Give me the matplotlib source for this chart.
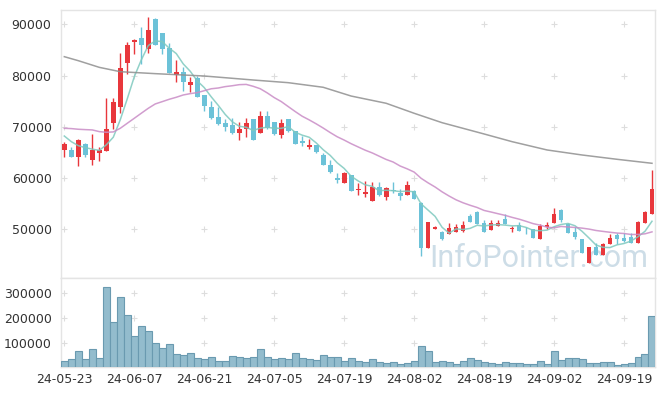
import numpy as np
import matplotlib
matplotlib.use('Agg')
import matplotlib.pyplot as plt

# daily candles, 24-05-23 .. 24-09-25
opens = [65500, 65500, 64200, 66650, 63600, 64800, 65370, 70800, 73950, 82500,
         86600, 87400, 85250, 91050, 88300, 85300, 80180, 80700, 78230, 79460,
         76150, 73920, 71830, 70650, 70260, 68820, 69480, 71570, 68820, 72030,
         70850, 68430, 71440, 69150, 67190, 66010, 66470, 64580, 62610, 60070,
         59020, 60650, 57580, 56860, 55430, 58240, 56400, 57580, 56990, 56670,
         57390, 55100, 46270, 50130, 49410, 49020, 49410, 49670, 52610, 53460,
         51180, 49870, 50650, 51960, 50000, 50780, 49740, 50000, 48170, 50520,
         51310, 53790, 51050, 49540, 48100, 43460, 46470, 45030, 47120, 48820,
         48370, 48430, 47390, 51310, 53010]
highs = [67000, 66000, 67580, 66920, 68550, 66150, 75560, 75560, 84350, 86500,
         87080, 89400, 91500, 91300, 88300, 86300, 83040, 81740, 79790, 79900,
         76150, 75100, 73790, 71440, 71700, 70920, 71700, 71570, 73140, 73140,
         70850, 71570, 71440, 69150, 68300, 67650, 66470, 64900, 63600, 60980,
         61240, 60650, 59020, 59350, 59150, 59150, 58240, 59220, 57780, 59410,
         57710, 55230, 51370, 50650, 49740, 51180, 51050, 51700, 53010, 53600,
         51830, 51830, 51830, 53010, 50650, 51500, 50390, 50000, 51050, 51500,
         54120, 53920, 51310, 50390, 48100, 46470, 47260, 47390, 49090, 49220,
         49220, 49350, 51700, 53660, 61630]
lows = [64200, 64200, 62380, 64200, 62500, 63270, 65370, 69500, 72750, 80300,
        84150, 82250, 84350, 86050, 84150, 80450, 78680, 77050, 76860, 75880,
        73070, 71570, 70390, 69150, 68630, 67520, 68040, 67390, 68820, 69480,
        68430, 67780, 68950, 66600, 66340, 65690, 64900, 62480, 60980, 59020,
        59020, 57520, 56600, 56400, 55430, 56540, 55750, 56990, 55750, 56670,
        55880, 44770, 46270, 50000, 47910, 49020, 49410, 49540, 51500, 51050,
        49410, 49870, 50650, 51050, 49540, 49740, 49090, 48240, 48040, 50000,
        51310, 51500, 49350, 48040, 45430, 43460, 44970, 45030, 47120, 47120,
        47580, 47390, 47390, 51180, 53010]
closes = [66650, 64200, 67450, 64400, 65500, 65500, 69580, 74850, 81480, 85970,
          86950, 85970, 88900, 86050, 85250, 80570, 80700, 78810, 78810, 75880,
          74050, 71700, 70520, 69870, 68820, 69610, 70650, 67520, 72030, 69740,
          68560, 70650, 69150, 66600, 66860, 66540, 65160, 62480, 61110, 59610,
          61050, 57520, 57910, 57320, 58170, 56670, 58040, 57450, 56470, 58690,
          55880, 46270, 51370, 50390, 48040, 50200, 50390, 50780, 51500, 51050,
          49540, 51310, 51180, 51050, 50260, 49740, 49610, 48370, 50650, 50850,
          53010, 51830, 49350, 48430, 45430, 46470, 44970, 47120, 48240, 48040,
          47780, 47390, 51370, 53460, 57840]
volumes = [26700, 34700, 66700, 34700, 74700, 38700, 326700, 182700, 282700, 210700,
           126700, 165300, 146700, 98700, 78700, 94700, 54700, 50700, 58700, 38700,
           34700, 42700, 26700, 26700, 46700, 42700, 38700, 42700, 74700, 42700,
           34700, 38700, 34700, 58700, 38700, 34700, 30700, 50700, 42700, 42700,
           26700, 38700, 26700, 22700, 34700, 22700, 18700, 22700, 14700, 18700,
           26700, 86700, 66700, 22700, 26700, 22700, 14700, 26700, 38700, 30700,
           22700, 18700, 14700, 22700, 18700, 18700, 14700, 14700, 26700, 14700,
           66700, 30700, 38700, 38700, 34700, 18700, 18700, 22700, 22700, 10700,
           14700, 18700, 42700, 54700, 206700]

# moving averages
ma5 = [68200, 67100, 66320, 65930, 65640, 65400, 66480, 67960, 71380, 75470,
       79760, 83040, 85850, 86760, 86620, 85340, 84290, 82270, 80830, 78960,
       77650, 75850, 74190, 72410, 70990, 70110, 69900, 69290, 69730, 69910,
       69700, 69700, 70030, 68940, 68370, 67960, 66860, 65530, 64430, 62980,
       61880, 60350, 59440, 58680, 58390, 57520, 57620, 57530, 57360, 57460,
       57310, 54950, 53740, 52520, 50390, 49260, 50080, 49960, 50180, 50780,
       50650, 50840, 50920, 50820, 50670, 50710, 50370, 49800, 49730, 49840,
       50500, 50940, 51140, 50690, 49610, 48300, 46930, 46480, 46440, 46970,
       47230, 47710, 48560, 49610, 51570]
ma20 = [69710, 69650, 69520, 69450, 69390, 69060, 68930, 69000, 69710, 70690,
        71660, 72640, 73610, 74460, 74910, 75370, 75760, 76210, 76470, 76670,
        77040, 77420, 77570, 77840, 78010, 78220, 78270, 77900, 77430, 76620,
        75700, 74930, 73950, 72980, 72060, 71350, 70580, 69760, 68880, 68060,
        67410, 66700, 66070, 65440, 64910, 64270, 63630, 63130, 62350, 61800,
        61170, 59950, 59060, 58250, 57310, 56490, 55750, 55170, 54690, 54260,
        53680, 53370, 53040, 52720, 52330, 51980, 51560, 51110, 50810, 50420,
        50280, 50560, 50450, 50360, 50230, 50040, 49770, 49590, 49420, 49270,
        49180, 48990, 49000, 49120, 49500]
ma60_idx = [0, 2, 5, 8, 13, 20, 27, 32, 37, 41, 46, 50, 54, 60, 64, 69, 74, 79, 84]
ma60 = [83680, 82900, 81600, 80750, 80370, 79910, 79130, 78610, 77710, 76000,
        74590, 72640, 70800, 68600, 67100, 65480, 64500, 63660, 62880]

tick_pos = [0, 10, 20, 30, 40, 50, 60, 70, 80]
tick_labels = ['24-05-23', '24-06-07', '24-06-21', '24-07-05', '24-07-19',
               '24-08-02', '24-08-19', '24-09-02', '24-09-19']
price_ticks = [50000, 60000, 70000, 80000, 90000]
vol_ticks = [100000, 200000, 300000]

UP = '#e8373c'
DOWN = '#6cc2d8'

plt.rcParams['font.family'] = ['DejaVu Sans']
fig = plt.figure(figsize=(6.65, 3.96), dpi=100)
W, H = 665, 396
ax = fig.add_axes([61.3 / W, (H - 278.3) / H, (655 - 61.3) / W, (278.3 - 10.3) / H])
axv = fig.add_axes([61.3 / W, (H - 367.3) / H, (655 - 61.3) / W, (367.3 - 278.3) / H], sharex=ax)

x = np.arange(len(closes))
o = np.array(opens); c = np.array(closes)
hi = np.array(highs); lo = np.array(lows)
up = c >= o
cols = np.where(up, UP, DOWN)

ax.vlines(x, lo, hi, colors=cols, linewidth=1.0, zorder=3)
body_lo = np.minimum(o, c)
body_h = np.maximum(np.abs(c - o), 120)
ax.bar(x, body_h, bottom=body_lo, width=0.68, color=cols, linewidth=0, zorder=3)

ax.plot(x, ma5, color='#7ec9bf', lw=1.1, alpha=0.85, zorder=4)
ax.plot(x, ma20, color='#c98cc6', lw=1.1, alpha=0.85, zorder=4)
ax.plot(ma60_idx, ma60, color='#8f8f8f', lw=1.1, alpha=0.85, zorder=4)

gx, gy = np.meshgrid(tick_pos, price_ticks)
ax.scatter(gx.ravel(), gy.ravel(), marker='+', s=18, color='#dddddd', linewidths=0.8, zorder=1)
ax.set_ylim(40440, 92730)
ax.set_xlim(-0.43, 84.43)
ax.set_yticks(price_ticks)
ax.tick_params(axis='y', length=0, pad=7, labelsize=9, labelcolor='#333333')
ax.tick_params(axis='x', length=0, labelbottom=False)

ax.text(648 / W, (H - 267) / H, 'InfoPointer.com', transform=fig.transFigure,
        ha='right', va='baseline', fontsize=22, color='#cddde7',
        family='Roboto', zorder=0)

axv.bar(x, volumes, width=1.0, color='#93bccd', edgecolor='#6a9ab0', linewidth=0.8, zorder=3)
vx, vy = np.meshgrid(tick_pos, vol_ticks)
axv.scatter(vx.ravel(), vy.ravel(), marker='+', s=18, color='#dddddd', linewidths=0.8, zorder=1)
axv.set_ylim(0, 360000)
axv.set_yticks(vol_ticks)
axv.set_xticks(tick_pos)
axv.set_xticklabels(tick_labels)
axv.tick_params(axis='y', length=0, pad=7, labelsize=9, labelcolor='#333333')
axv.tick_params(axis='x', length=0, pad=4, labelsize=9, labelcolor='#333333')

for a in (ax, axv):
    for s in a.spines.values():
        s.set_color('#e4e4e4')
        s.set_linewidth(1.0)

fig.savefig('out.png', dpi=100)
